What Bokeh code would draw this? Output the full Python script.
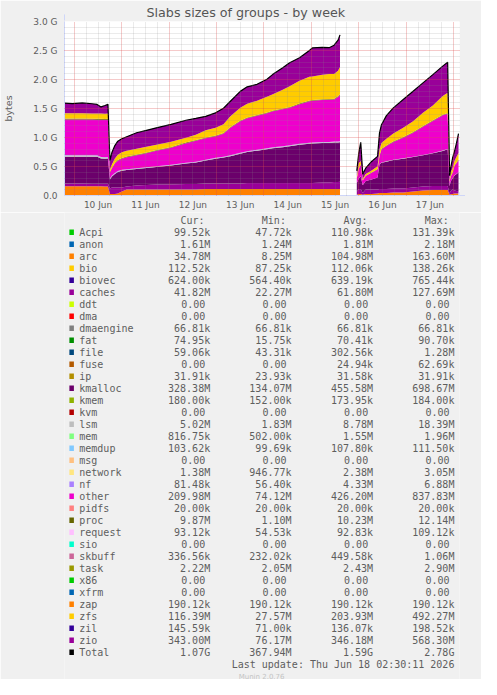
import math
from bokeh.plotting import figure
from bokeh.layouts import column
from bokeh.models import ColumnDataSource, FixedTicker, Range1d, Label, Arrow, NormalHead
from bokeh.core.properties import value
from bokeh.embed import file_html
from bokeh.resources import INLINE

# ---------------- data ----------------
# time: hours since 2026-06-09 00:00 ; None in series = no data (gap)
hours = [19, 23, 28, 33, 35.5, 37.5, 39.5, 41,
         42, 43, 44.5, 46, 48, 50.5, 55.5, 60.5, 65.5, 73,
         80.5, 85.5, 90.5, 95.5, 99.5, 103, 108, 111.5, 116.5, 121.5,
         124.5, 129.5, 133, 138, 143, 144.5, 149.5, 153, 155.5, 157.5, 158.5,
         163,
         167, 168, 169, 170, 171.5, 174.5, 177.5, 178.5, 179.5, 182,
         185.5, 190.5, 195.5, 200.5, 205.5, 210.5, 213, 214, 214.5, 215.5,
         216.5, 217.5, 218.5]

# values in MiB (1 G = 1024 M)
arc = [163, 163, 163, 162, 162, 162, 161, 161,
       26, 26, 26, 35, 70, 106, 106, 106, 106, 106,
       106, 106, 114, 114, 114, 114, 114, 114, 114, 114,
       114, 114, 114, 114, 114, 114, 114, 114, 114, 114, 114,
       None,
       15, 26, 26, 12, 26, 26, 35, 44, 44, 44,
       53, 53, 70, 88, 97, 97, 97, 8.25, 20, 26,
       35, 35, 34.78]
caches = [47, 47, 48, 47, 47, 46, 46, 47,
          97, 114, 114, 106, 70, 53, 70, 79, 88, 88,
          97, 97, 97, 97, 97, 97, 97, 106, 106, 106,
          106, 106, 106, 106, 106, 106, 115, 115, 124, 124, 127,
          None,
          50, 88, 88, 30, 79, 79, 70, 70, 70, 70,
          70, 70, 70, 70, 70, 70, 70, 22.27, 60, 79,
          53, 44, 41.82]
kmalloc = [476, 475, 474, 476, 475, 446, 444, 445,
           158, 194, 238, 273, 299, 290, 290, 299, 308, 334,
           361, 378, 405, 440, 458, 484, 528, 546, 572, 598,
           616, 634, 651, 678, 695, 698, 698, 698, 698, 698, 698,
           None,
           150, 185, 220, 140, 150, 176, 211, 436, 466, 484,
           505, 528, 540, 551, 577, 620, 648, 134.07, 165, 194,
           264, 299, 328.38]
lsm = [18.39, 18.2, 18.0, 18.0, 17.8, 17.5, 17.5, 17.6,
       12, 11, 10, 9, 8, 8, 8, 8, 8, 8,
       8.5, 8.5, 9, 9, 9, 9.5, 9.5, 9.5, 10, 10,
       10, 10, 10.5, 10.5, 10.5, 11, 11, 11, 11, 11, 11,
       None,
       2, 2.5, 3, 2, 2, 2.5, 3, 4, 4, 4,
       4.5, 4.5, 5, 5, 5.5, 6, 6, 1.83, 2.5, 3,
       4, 4.5, 5.02]
mem = [1.96, 1.95, 1.9, 1.9, 1.9, 1.9, 1.9, 1.9,
       1.7, 1.7, 1.7, 1.6, 1.6, 1.6, 1.6, 1.6, 1.6, 1.6,
       1.6, 1.6, 1.6, 1.6, 1.6, 1.6, 1.6, 1.6, 1.6, 1.6,
       1.6, 1.7, 1.7, 1.7, 1.7, 1.7, 1.7, 1.7, 1.7, 1.7, 1.7,
       None,
       0.6, 0.6, 0.6, 0.5, 0.55, 0.6, 0.6, 0.65, 0.7, 0.7,
       0.7, 0.7, 0.75, 0.75, 0.75, 0.8, 0.8, 0.5, 0.6, 0.7,
       0.75, 0.8, 0.82]
nf = [6.88, 6.8, 6.7, 6.6, 6.6, 6.5, 6.5, 6.5,
      6.2, 6.2, 6.2, 6.1, 6.1, 6.1, 6.0, 6.0, 6.0, 5.9,
      5.9, 5.9, 5.8, 5.8, 5.8, 5.7, 5.7, 5.7, 5.6, 5.6,
      5.6, 5.5, 5.5, 5.5, 5.4, 5.4, 5.4, 5.3, 5.3, 5.3, 5.2,
      None,
      0.08, 0.08, 0.08, 0.06, 0.06, 0.07, 0.07, 0.07, 0.07, 0.07,
      0.07, 0.07, 0.07, 0.07, 0.08, 0.08, 0.08, 0.06, 0.06, 0.07,
      0.08, 0.08, 0.08]
other = [630, 631, 632, 630, 629, 659, 660, 660,
         106, 124, 168, 185, 194, 212, 229, 247, 273, 300,
         344, 370, 379, 379, 405, 485, 555, 581, 599, 617,
         634, 652, 661, 696, 731, 735, 740, 745, 740, 787, 820,
         None,
         85, 170, 205, 80, 86, 117, 140, 142, 228, 270,
         311, 364, 422, 499, 564, 621, 622, 74.12, 77, 100,
         170, 188, 209.98]
proc = [12.14, 12.1, 12.0, 12.0, 11.9, 11.9, 11.8, 11.8,
        10.5, 10.5, 10.4, 10.4, 10.3, 10.3, 10.2, 10.2, 10.1, 10.1,
        10.0, 10.0, 10.0, 10.0, 10.0, 10.1, 10.1, 10.2, 10.2, 10.3,
        10.3, 10.4, 10.4, 10.5, 10.5, 10.5, 10.6, 10.6, 10.6, 10.7, 10.7,
        None,
        2.5, 5, 6, 1.10, 3, 5, 6, 8, 8.5, 9,
        9.2, 9.4, 9.6, 9.8, 10, 10.2, 10.3, 1.2, 3, 5,
        7, 8.5, 9.87]
task = [2.9, 2.85, 2.8, 2.8, 2.8, 2.75, 2.7, 2.7,
        2.3, 2.3, 2.35, 2.35, 2.4, 2.4, 2.4, 2.4, 2.4, 2.4,
        2.4, 2.4, 2.4, 2.45, 2.45, 2.45, 2.45, 2.5, 2.5, 2.5,
        2.5, 2.5, 2.5, 2.55, 2.55, 2.55, 2.55, 2.6, 2.6, 2.6, 2.6,
        None,
        2.1, 2.1, 2.15, 2.05, 2.1, 2.1, 2.15, 2.15, 2.2, 2.2,
        2.2, 2.25, 2.25, 2.25, 2.3, 2.3, 2.3, 2.05, 2.1, 2.15,
        2.2, 2.2, 2.22]
zfs = [93, 94, 93, 93, 92, 92, 93, 93,
       40, 58, 75.5, 93, 102, 102, 102, 102, 93, 93,
       84, 93, 128, 137, 155, 190, 225, 243, 252, 278,
       287, 331, 366, 401, 419, 419, 433, 440, 436, 450, 478,
       None,
       32, 93, 58, 30, 33, 35, 47, 104, 105, 116,
       139, 164, 193, 234, 262, 329, 357, 27.57, 70, 75.5,
       75.5, 102, 116.39]
zio = [180, 171, 183, 171, 162, 118, 144, 162,
       158, 211, 229, 238, 238, 246, 282, 290, 299, 308,
       308, 290, 246, 264, 282, 264, 290, 299, 290, 308,
       352, 387, 414, 405, 466, 502, 484, 466, 510, 537, 568,
       None,
       95, 176, 329, 80, 100, 158, 176, 294, 322, 410,
       452, 498, 528, 528, 546, 528, 540, 76.17, 80, 176,
       171, 246, 343.0]

stack_names = ["arc", "caches", "kmalloc", "lsm", "mem", "nf", "other", "proc", "task", "zfs", "zio"]
stack_values = [arc, caches, kmalloc, lsm, mem, nf, other, proc, task, zfs, zio]
stack_colors = ["#FF8000", "#990099", "#6B006B", "#BEBEBE", "#80FF80", "#AA80FF",
                "#EE00CC", "#666600", "#999900", "#FFCC00", "#990099"]

y_tick_g = [0.0, 0.5, 1.0, 1.5, 2.0, 2.5, 3.0]
y_tick_labels = ["0.0", "0.5 G", "1.0 G", "1.5 G", "2.0 G", "2.5 G", "3.0 G"]
day_noon_hours = [36, 60, 84, 108, 132, 156, 180, 204]
day_labels = ["10 Jun", "11 Jun", "12 Jun", "13 Jun", "14 Jun", "15 Jun", "16 Jun", "17 Jun"]

legend_names = ["Acpi", "anon", "arc", "bio", "biovec", "caches", "ddt", "dma", "dmaengine",
                "fat", "file", "fuse", "ip", "kmalloc", "kmem", "kvm", "lsm", "mem", "memdup",
                "msg", "network", "nf", "other", "pidfs", "proc", "request", "sio", "skbuff",
                "task", "x86", "xfrm", "zap", "zfs", "zil", "zio", "Total"]
legend_colors = ["#00CC00", "#0066B3", "#FF8000", "#FFCC00", "#330099", "#990099", "#CCFF00",
                 "#FF0000", "#808080", "#008F00", "#00487D", "#B35A00", "#B38F00", "#6B006B",
                 "#8FB300", "#B30000", "#BEBEBE", "#80FF80", "#80C9FF", "#FFC080", "#FFE680",
                 "#AA80FF", "#EE00CC", "#FF8080", "#666600", "#FFBFFF", "#00FFCC", "#CC6699",
                 "#999900", "#00CC00", "#0066B3", "#FF8000", "#FFCC00", "#330099", "#990099",
                 "#000000"]
cur_text = ["99.52k", "1.61M", "34.78M", "112.52k", "624.00k", "41.82M", "0.00", "0.00", "66.81k",
            "74.95k", "59.06k", "0.00", "31.91k", "328.38M", "180.00k", "0.00", "5.02M", "816.75k",
            "103.62k", "0.00", "1.38M", "81.48k", "209.98M", "20.00k", "9.87M", "93.12k", "0.00",
            "336.56k", "2.22M", "0.00", "0.00", "190.12k", "116.39M", "145.59k", "343.00M", "1.07G"]
min_text = ["47.72k", "1.24M", "8.25M", "87.25k", "564.40k", "22.27M", "0.00", "0.00", "66.81k",
            "15.75k", "43.31k", "0.00", "23.93k", "134.07M", "152.00k", "0.00", "1.83M", "502.00k",
            "99.69k", "0.00", "946.77k", "56.40k", "74.12M", "20.00k", "1.10M", "54.53k", "0.00",
            "232.02k", "2.05M", "0.00", "0.00", "190.12k", "27.57M", "71.00k", "76.17M", "367.94M"]
avg_text = ["110.98k", "1.81M", "104.98M", "112.06k", "639.19k", "61.80M", "0.00", "0.00", "66.81k",
            "70.41k", "302.56k", "24.94k", "31.58k", "455.58M", "173.95k", "0.00", "8.78M", "1.55M",
            "107.80k", "0.00", "2.38M", "4.33M", "426.20M", "20.00k", "10.23M", "92.83k", "0.00",
            "449.58k", "2.43M", "0.00", "0.00", "190.12k", "203.93M", "136.07k", "346.18M", "1.59G"]
max_text = ["131.39k", "2.18M", "163.60M", "138.26k", "765.44k", "127.69M", "0.00", "0.00", "66.81k",
            "90.70k", "1.28M", "62.69k", "31.91k", "698.67M", "184.00k", "0.00", "18.39M", "1.96M",
            "111.50k", "0.00", "3.05M", "6.88M", "837.83M", "20.00k", "12.14M", "109.12k", "0.00",
            "1.06M", "2.90M", "0.00", "0.00", "190.12k", "492.27M", "198.52k", "568.30M", "2.78G"]
column_heads = ["Cur:", "Min:", "Avg:", "Max:"]
last_update = "Last update: Thu Jun 18 02:30:11 2026"
watermark = "Munin 2.0.76"
side_mark = "RRDTOOL / TOBI OETIKER"
title_text = "Slabs sizes of groups - by week"

# ---------------- style ----------------
MB_PER_G = 1024
FONT_C = "#5e5e5e"
AXIS_C = "#CFD6F8"
SANS = "DejaVu Sans"
MONO = "DejaVu Sans Mono"

# ---------------- chart ----------------
p = figure(width=481, height=212, x_range=Range1d(19, 219), y_range=Range1d(0, 3 * MB_PER_G),
           toolbar_location=None, output_backend="svg",
           min_border_left=59, min_border_right=22, min_border_top=21, min_border_bottom=17,
           background_fill_color="#FFFFFF", border_fill_color="#F0F0F0", outline_line_color=None)

p.title.text = title_text
p.title.align = "left"
p.title.offset = 82
p.title.standoff = 4
p.title.text_font = SANS
p.title.text_font_size = "12.7px"
p.title.text_font_style = "normal"
p.title.text_color = "#555555"

# stacked areas, one block per contiguous segment
segments, cur = [], []
for i, h in enumerate(hours):
    if arc[i] is None:
        if cur:
            segments.append(cur)
        cur = []
    else:
        cur.append(i)
if cur:
    segments.append(cur)

for seg in segments:
    d = {"h": [hours[i] for i in seg]}
    for name, vals in zip(stack_names, stack_values):
        d[name] = [vals[i] for i in seg]
    d["total"] = [sum(vals[i] for vals in stack_values) for i in seg]
    src = ColumnDataSource(d)
    p.varea_stack(stackers=stack_names, x="h", color=stack_colors, source=src)
    p.line("h", "total", source=src, line_color="#000000", line_width=1.2)

# axes
y_ticks = [g * MB_PER_G for g in y_tick_g]
p.yaxis.ticker = FixedTicker(ticks=y_ticks)
p.yaxis.major_label_overrides = {t: lab for t, lab in zip(y_ticks, y_tick_labels)}
p.xaxis.ticker = FixedTicker(ticks=day_noon_hours)
p.xaxis.major_label_overrides = {t: lab for t, lab in zip(day_noon_hours, day_labels)}
for ax in (p.xaxis, p.yaxis):
    ax.axis_line_color = AXIS_C
    ax.major_tick_line_color = None
    ax.minor_tick_line_color = None
    ax.major_tick_in = 0
    ax.major_tick_out = 0
    ax.minor_tick_in = 0
    ax.minor_tick_out = 0
    ax.major_label_text_font = SANS
    ax.major_label_text_font_size = "9px"
    ax.major_label_text_color = FONT_C
p.yaxis.major_label_standoff = 7
p.xaxis.major_label_standoff = 4
p.yaxis.axis_label = "bytes"
p.yaxis.axis_label_text_font = SANS
p.yaxis.axis_label_text_font_size = "9.5px"
p.yaxis.axis_label_text_font_style = "normal"
p.yaxis.axis_label_text_color = FONT_C
p.yaxis.axis_label_standoff = 16

# grid (drawn over the data like rrdtool)
midnights = [24 * k for k in range(1, 10) if 19 <= 24 * k <= 219]
six_hours = [6 * k for k in range(4, 37) if 19 <= 6 * k <= 219 and (6 * k) % 24 != 0]
p.xgrid.ticker = FixedTicker(ticks=midnights, minor_ticks=six_hours)
minor_y = [k * MB_PER_G / 10 for k in range(1, 30) if k % 5 != 0]
p.ygrid.ticker = FixedTicker(ticks=y_ticks, minor_ticks=minor_y)
for g in (p.xgrid, p.ygrid):
    g.level = "overlay"
    g.grid_line_color = "#DE4F4F"
    g.grid_line_alpha = 0.6
    g.grid_line_dash = "1 1"
    g.minor_grid_line_color = "#8C8C8C"
    g.minor_grid_line_alpha = 0.35
    g.minor_grid_line_dash = "1 1"

# axis arrows
p.add_layout(Arrow(end=NormalHead(size=6, fill_color=AXIS_C, line_color=AXIS_C),
                   x_start=19, y_start=3 * MB_PER_G, x_end=19, y_end=3 * MB_PER_G + 125,
                   line_color=AXIS_C, line_width=1))
p.add_layout(Arrow(end=NormalHead(size=6, fill_color=AXIS_C, line_color=AXIS_C),
                   x_start=219, y_start=0, x_end=221.8, y_end=0,
                   line_color=AXIS_C, line_width=1))

p.add_layout(Label(x=413, y=194, x_units="screen", y_units="screen", text=side_mark,
                   angle=-math.pi / 2, text_align="left", text_baseline="middle",
                   text_font=SANS, text_font_size="7.5px", text_color="#C4C4C4"))

# ---------------- legend panel ----------------
leg = figure(width=481, height=467, x_range=Range1d(8, 489), y_range=Range1d(687, 220),
             toolbar_location=None, output_backend="svg", min_border=0,
             x_axis_location=None, y_axis_location=None,
             background_fill_color="#F0F0F0", border_fill_color="#F0F0F0", outline_line_color=None)
leg.grid.visible = False

row_y0, row_dy = 239.7, 12.0
char_w = 6.02
col_end = [185.4, 284.4, 383.8, 482.8]
rows_y = [row_y0 + row_dy * i for i in range(len(legend_names))]

leg.rect(x=[16.7] * len(rows_y), y=rows_y, width=5.5, height=5.5,
         fill_color=legend_colors, line_color=None)
leg.text(x=[26] * len(rows_y), y=rows_y, text=legend_names, text_font=value(MONO),
         text_font_size="10px", text_baseline="middle", text_align="left", text_color=FONT_C)

vx, vy, vt = [], [], []
for c, col in enumerate([cur_text, min_text, avg_text, max_text]):
    for i, s in enumerate(col):
        vx.append(col_end[c] - (char_w if s[-1].isdigit() else 0))
        vy.append(rows_y[i])
        vt.append(s)
leg.text(x=vx, y=vy, text=vt, text_font=value(MONO), text_font_size="10px",
         text_baseline="middle", text_align="right", text_color=FONT_C)
leg.text(x=[e - 6 * char_w for e in col_end], y=[228] * 4, text=column_heads,
         text_font=value(MONO), text_font_size="10px", text_baseline="middle",
         text_align="left", text_color=FONT_C)
leg.text(x=[482.8], y=[671.7], text=[last_update], text_font=value(MONO), text_font_size="10px",
         text_baseline="middle", text_align="right", text_color=FONT_C)
leg.text(x=[248], y=[684], text=[watermark], text_font=value(SANS), text_font_size="7px",
         text_baseline="middle", text_align="center", text_color="#C4C4C4")

layout = column(p, leg, spacing=0)
open("out.html", "w").write(file_html(layout, INLINE, "Slabs sizes of groups - by week"))
